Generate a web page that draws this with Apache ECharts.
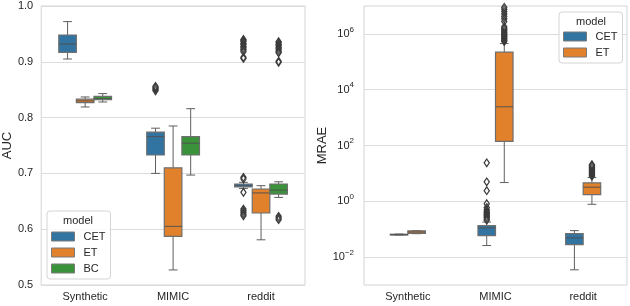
<!DOCTYPE html>
<html>
<head>
<meta charset="utf-8">
<script src="https://cdn.jsdelivr.net/npm/echarts@6/dist/echarts.min.js"></script>
<style>
html,body{margin:0;padding:0;background:#fff;}
#chart{width:630px;height:306px;}
</style>
</head>
<body>
<div id="chart"></div>
<script>
// ---------- data ----------
const categories = ['Synthetic', 'MIMIC', 'reddit'];
const models = ['CET', 'ET', 'BC'];
const colors = {CET: '#3274a1', ET: '#e1812c', BC: '#3a923a'};

// AUC boxes: [min, q1, median, q3, max] per category
const aucCET = [[0.905, 0.917, 0.932, 0.948, 0.972], [0.700, 0.733, 0.766, 0.774, 0.781], [0.673, 0.676, 0.678, 0.681, 0.684]];
const aucET  = [[0.819, 0.827, 0.830, 0.833, 0.837], [0.527, 0.587, 0.605, 0.710, 0.785], [0.581, 0.629, 0.665, 0.672, 0.678]];
const aucBC  = [[0.828, 0.832, 0.834, 0.838, 0.843], [0.697, 0.733, 0.754, 0.766, 0.816], [0.657, 0.663, 0.670, 0.681, 0.685]];
// AUC outliers per category
const aucCETOut = [[], [0.848, 0.850, 0.852, 0.854, 0.856],
  [0.940, 0.938, 0.936, 0.933, 0.931, 0.928, 0.926, 0.923, 0.921, 0.918, 0.908, 0.906, 0.693, 0.690, 0.666, 0.636, 0.633, 0.630, 0.627, 0.624]];
const aucETOut  = [[], [], []];
const aucBCOut  = [[], [], [0.936, 0.934, 0.931, 0.929, 0.926, 0.924, 0.921, 0.918, 0.916, 0.901, 0.899, 0.623, 0.620, 0.617]];

// MRAE boxes: [min, q1, median, q3, max] per category
const mraeCET = [[0.062, 0.0625, 0.064, 0.066, 0.067], [0.026, 0.059, 0.112, 0.135, 0.18], [0.0035, 0.028, 0.049, 0.069, 0.089]];
const mraeET  = [[0.069, 0.071, 0.079, 0.087, 0.089], [4.7, 141, 2450, 224000, 450000], [0.78, 1.74, 3.2, 4.6, 7.1]];
// MRAE outliers per category
const mraeCETOut = [[], [24, 5.0, 2.4, 0.82, 0.6, 0.5, 0.44, 0.4, 0.36, 0.33, 0.31, 0.28, 0.26, 0.23, 0.21], []];
const mraeETOut  = [[], [530000, 580000, 640000, 700000, 760000, 830000, 900000, 980000, 1070000, 1170000, 1300000, 1450000, 1600000, 1800000,
  2800000, 3500000, 4200000, 5200000, 6300000, 7600000, 9000000],
  [7.9, 8.5, 9.2, 10, 10.8, 11.7, 12.6, 13.6, 14.8, 16, 17.5, 19, 20.5]];

// y ticks
const aucTicks = [0.5, 0.6, 0.7, 0.8, 0.9, 1.0];
const mraeExpMin = -3, mraeExpMax = 7;

// ---------- helpers ----------
const FONT = "'Liberation Sans', Arial, sans-serif";
const TXT = '#262626';
const LINE = '#5f5f5f';

function boxSeries(name, boxes, axisIdx, offsetFrac, widthFrac, transform) {
  const data = [];
  boxes.forEach((b, i) => {
    if (b) data.push([i].concat(b.map(transform)));
  });
  return {
    type: 'custom', name: name, xAxisIndex: axisIdx, yAxisIndex: axisIdx,
    itemStyle: {color: colors[name]},
    encode: {x: 0, y: [1, 2, 3, 4, 5]},
    data: data,
    z: 3,
    renderItem: function (params, api) {
      const cat = api.value(0);
      const band = api.size([1, 0])[0];
      const pMin = api.coord([cat, api.value(1)]);
      const pQ1 = api.coord([cat, api.value(2)]);
      const pMed = api.coord([cat, api.value(3)]);
      const pQ3 = api.coord([cat, api.value(4)]);
      const pMax = api.coord([cat, api.value(5)]);
      const cx = pMin[0] + offsetFrac * band;
      const hw = widthFrac * band / 2;
      const cw = hw / 2;
      const ls = {stroke: LINE, lineWidth: 1};
      return {
        type: 'group',
        children: [
          {type: 'line', shape: {x1: cx, y1: pMin[1], x2: cx, y2: pQ1[1]}, style: ls},
          {type: 'line', shape: {x1: cx, y1: pQ3[1], x2: cx, y2: pMax[1]}, style: ls},
          {type: 'line', shape: {x1: cx - cw, y1: pMin[1], x2: cx + cw, y2: pMin[1]}, style: ls},
          {type: 'line', shape: {x1: cx - cw, y1: pMax[1], x2: cx + cw, y2: pMax[1]}, style: ls},
          {type: 'rect', shape: {x: cx - hw, y: pQ3[1], width: 2 * hw, height: Math.max(pQ1[1] - pQ3[1], 0.8)},
           style: {fill: colors[name], stroke: '#6f6f6f', lineWidth: 1.2}},
          {type: 'line', shape: {x1: cx - hw, y1: pMed[1], x2: cx + hw, y2: pMed[1]}, style: {stroke: '#505050', lineWidth: 1.2, opacity: 0.8}}
        ]
      };
    }
  };
}

function outlierSeries(name, outs, axisIdx, offsetFrac, transform) {
  const data = [];
  outs.forEach((arr, i) => arr.forEach(v => data.push([i, transform(v)])));
  return {
    type: 'custom', name: name, xAxisIndex: axisIdx, yAxisIndex: axisIdx,
    itemStyle: {color: colors[name]},
    encode: {x: 0, y: 1},
    data: data,
    z: 4,
    renderItem: function (params, api) {
      const cat = api.value(0);
      const band = api.size([1, 0])[0];
      const p = api.coord([cat, api.value(1)]);
      const cx = p[0] + offsetFrac * band, cy = p[1];
      return {
        type: 'polygon',
        shape: {points: [[cx, cy - 3.8], [cx + 2.6, cy], [cx, cy + 3.8], [cx - 2.6, cy]]},
        style: {fill: 'rgba(255,255,255,0.1)', stroke: '#3a3a3a', lineWidth: 1.2}
      };
    }
  };
}

const ident = v => v;
const lg = v => Math.log10(v);

const series = [
  boxSeries('CET', aucCET, 0, -0.2, 0.2, ident),
  boxSeries('ET', aucET, 0, 0, 0.2, ident),
  boxSeries('BC', aucBC, 0, 0.2, 0.2, ident),
  outlierSeries('CET', aucCETOut, 0, -0.2, ident),
  outlierSeries('ET', aucETOut, 0, 0, ident),
  outlierSeries('BC', aucBCOut, 0, 0.2, ident),
  boxSeries('CET', mraeCET, 1, -0.1, 0.2, lg),
  boxSeries('ET', mraeET, 1, 0.1, 0.2, lg),
  outlierSeries('CET', mraeCETOut, 1, -0.1, lg),
  outlierSeries('ET', mraeETOut, 1, 0.1, lg)
];

const catAxis = (idx) => ({
  type: 'category', gridIndex: idx, data: categories, boundaryGap: true,
  axisLine: {show: false}, axisTick: {show: false},
  axisLabel: {color: TXT, fontSize: 11, fontFamily: FONT, margin: 6},
  splitLine: {show: false}
});

const option = {
  animation: false,
  backgroundColor: '#ffffff',
  textStyle: {fontFamily: FONT},
  grid: [
    {left: 41, top: 6, width: 264, height: 279, show: true, borderColor: '#d4d4d4', borderWidth: 1, backgroundColor: 'transparent'},
    {left: 364, top: 6, width: 263, height: 279, show: true, borderColor: '#d4d4d4', borderWidth: 1, backgroundColor: 'transparent'}
  ],
  xAxis: [catAxis(0), catAxis(1)],
  yAxis: [
    {
      type: 'value', gridIndex: 0, min: aucTicks[0], max: aucTicks[aucTicks.length - 1], interval: 0.1,
      name: 'AUC', nameLocation: 'middle', nameGap: 27,
      nameTextStyle: {color: TXT, fontSize: 13, fontFamily: FONT},
      axisLine: {show: false}, axisTick: {show: false},
      axisLabel: {color: TXT, fontSize: 11, fontFamily: FONT, margin: 8, formatter: v => v.toFixed(1)},
      splitLine: {show: true, lineStyle: {color: '#dcdcdc', width: 1}}
    },
    {
      type: 'value', gridIndex: 1, min: mraeExpMin, max: mraeExpMax, interval: 1,
      name: 'MRAE', nameLocation: 'middle', nameGap: 33,
      nameTextStyle: {color: TXT, fontSize: 13, fontFamily: FONT},
      axisLine: {show: false}, axisTick: {show: false},
      axisLabel: {
        color: TXT, fontSize: 11, fontFamily: FONT, margin: 10,
        formatter: function (v) {
          if (Math.abs(v % 2) === 1 || v === mraeExpMin || v === mraeExpMax) return '';
          const e = v < 0 ? '\u2212' + (-v) : String(v);
          return '{b|10}{e|' + e + '}';
        },
        rich: {
          b: {fontSize: 11, color: TXT, fontFamily: FONT},
          e: {fontSize: 8, color: TXT, fontFamily: FONT, padding: [0, 0, 9, 0]}
        }
      },
      splitLine: {show: true, lineStyle: {color: ['rgba(0,0,0,0)', '#dcdcdc'], width: 1}}
    }
  ],
  legend: [
    {
      left: 47, top: 211, orient: 'vertical',
      data: ['CET', 'ET', 'BC'].map(n => ({name: n, itemStyle: {color: colors[n], borderColor: '#7a7a7a', borderWidth: 1}})),
      icon: 'rect', itemWidth: 23, itemHeight: 9, itemGap: 5,
      padding: [20, 5, 5, 4],
      backgroundColor: 'rgba(255,255,255,0.85)', borderColor: '#d4d4d4', borderWidth: 1, borderRadius: 3,
      textStyle: {color: TXT, fontSize: 11, fontFamily: FONT, padding: [0, 0, 0, 4]},
      selectedMode: false
    },
    {
      left: 559, top: 12, orient: 'vertical',
      data: ['CET', 'ET'].map(n => ({name: n, itemStyle: {color: colors[n], borderColor: '#7a7a7a', borderWidth: 1}})),
      icon: 'rect', itemWidth: 23, itemHeight: 9, itemGap: 5,
      padding: [19, 5, 5, 4],
      backgroundColor: 'rgba(255,255,255,0.85)', borderColor: '#d4d4d4', borderWidth: 1, borderRadius: 3,
      textStyle: {color: TXT, fontSize: 11, fontFamily: FONT, padding: [0, 0, 0, 4]},
      selectedMode: false
    }
  ],
  graphic: [
    {type: 'text', left: 63, top: 215, z: 100, style: {text: 'model', fill: TXT, fontSize: 11, fontFamily: FONT}},
    {type: 'text', left: 576, top: 16, z: 100, style: {text: 'model', fill: TXT, fontSize: 11, fontFamily: FONT}}
  ],
  series: series
};

const chart = echarts.init(document.getElementById('chart'), null, {renderer: 'canvas'});
chart.setOption(option);
</script>
</body>
</html>
